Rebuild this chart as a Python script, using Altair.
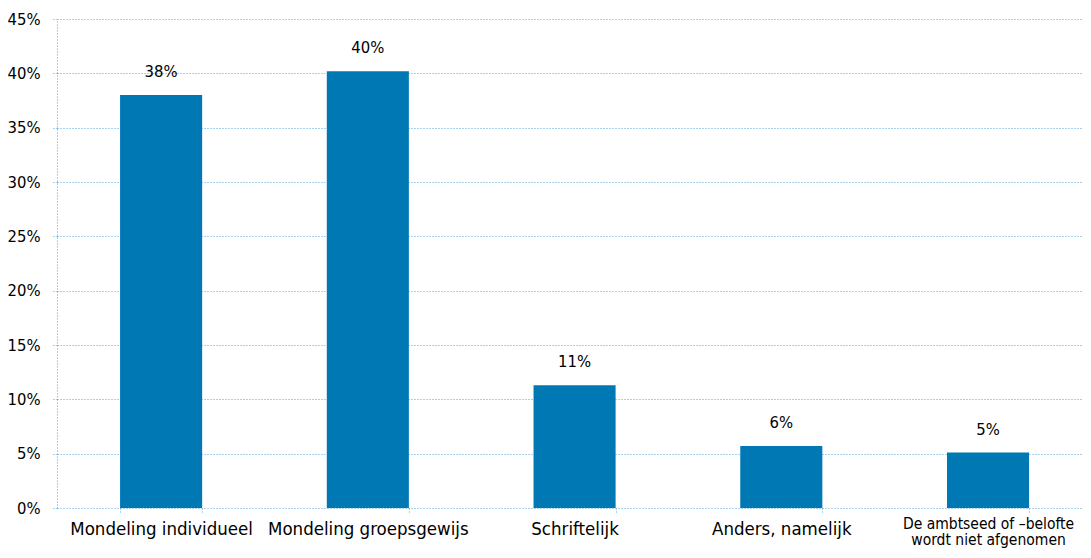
import altair as alt
import pandas as pd

categories = [
    "Mondeling individueel",
    "Mondeling groepsgewijs",
    "Schriftelijk",
    "Anders, namelijk",
    "De ambtseed of –belofte\nwordt niet afgenomen",
]
values = [38.0, 40.2, 11.3, 5.7, 5.1]
labels = ["38%", "40%", "11%", "6%", "5%"]
y_ticks = [0, 5, 10, 15, 20, 25, 30, 35, 40, 45]

df = pd.DataFrame({"cat": categories, "val": values, "lab": labels})

FONT = "DejaVu Sans Condensed"
GRID = "#4fa3d9"
LAST_TEST = "indexof(datum.label, 'ambtseed') >= 0"

x = alt.X(
    "cat:N",
    sort=categories,
    title=None,
    scale=alt.Scale(paddingInner=0.603, paddingOuter=0.283, align=0.539),
    axis=alt.Axis(
        labelAngle=0,
        labelFont=FONT,
        labelFontSize={"condition": {"test": LAST_TEST, "value": 15.5}, "value": 18.5},
        labelColor="#000000",
        labelPadding={"condition": {"test": LAST_TEST, "value": 3}, "value": 6},
        labelLineHeight=16,
        labelExpr="split(datum.label, '\\n')",
        labelLimit=400,
        labelOverlap=False,
        labelBound=False,
        domain=False,
        ticks=True,
        tickBand="extent",
        tickSize=5,
        tickColor=GRID,
        tickDash=[1, 2],
        grid=False,
    ),
)

y_scale = alt.Scale(domain=[0, 45], nice=False)

bars = alt.Chart(df).mark_bar(color="#0078b4").encode(
    x=x,
    y=alt.Y(
        "val:Q",
        title=None,
        scale=y_scale,
        axis=alt.Axis(
            values=y_ticks,
            labelExpr="datum.value + '%'",
            labelFont=FONT,
            labelFontSize=16.5,
            labelColor="#000000",
            labelPadding=11,
            domain=True,
            domainColor=GRID,
            domainDash=[1, 2],
            ticks=True,
            tickSize=6,
            tickColor=GRID,
            tickDash=[1, 2],
            grid=True,
            gridColor=GRID,
            gridDash=[1, 2],
            gridWidth=1,
        ),
    ),
)

text = alt.Chart(df).mark_text(
    font=FONT, fontSize=16.5, color="#000000", baseline="alphabetic", dy=-18
).encode(
    x=alt.X("cat:N", sort=categories),
    y=alt.Y("val:Q", scale=y_scale),
    text="lab:N",
)

chart = (
    alt.layer(bars, text)
    .properties(
        width=1026,
        height=489,
        autosize=alt.AutoSizeParams(type="none"),
        padding={"left": 49, "top": 11, "right": 0, "bottom": 42},
    )
    .configure_view(stroke=None)
)

chart.save("out.html", embed_options={"renderer": "svg", "actions": False})
